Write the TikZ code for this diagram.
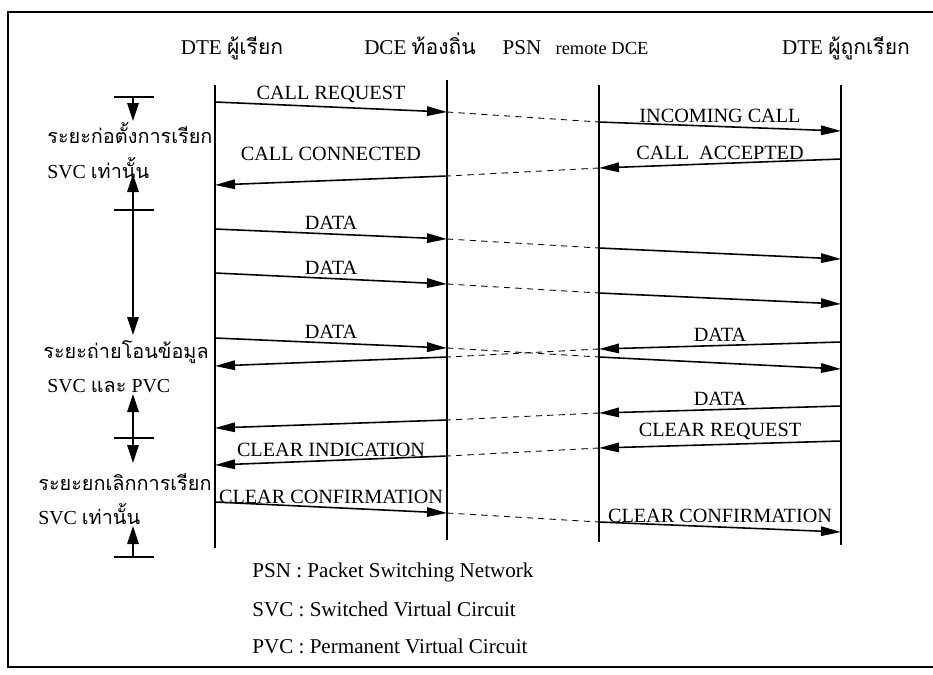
\documentclass[tikz,border=0pt]{standalone}
\usepackage{fontspec}
\setmainfont{Liberation Serif}
\newfontfamily\thaifont[Script=Thai]{Loma}
\usetikzlibrary{arrows.meta}

\begin{document}
\begin{tikzpicture}[
    x=0.02cm, y=-0.02cm,
    font=\fontsize{11.5}{13}\selectfont,
    life/.style={line width=0.6pt},
    msg/.style={-{Triangle[length=4mm,width=1.9mm]}, line width=0.9pt},
    net/.style={dash pattern=on 3.5pt off 3pt, line width=0.5pt},
    lbl/.style={above=1pt, inner sep=1pt},
    head/.style={anchor=base, inner sep=0pt, font=\fontsize{12}{14}\selectfont},
    phase/.style={-{Triangle[length=3.6mm,width=2.3mm]}, line width=0.7pt},
    tick/.style={line width=0.7pt},
    stage/.style={anchor=west, inner sep=0pt, font=\fontsize{11.3}{14}\selectfont},
    note/.style={anchor=west, inner sep=0pt, font=\fontsize{12}{14}\selectfont}
]
    \useasboundingbox (0,0) rectangle (933,674);
    %% Frame
    \draw[line width=1.1pt] (8,12) rectangle (945,667);

    %% Headers
    \node[head] (hcaller) at (232,54) {DTE {\thaifont ผู้เรียก}};
    \node[head] (hlocal) at (420,54) {DCE {\thaifont ท้องถิ่น}};
    \node[head] (hpsn) at (522,54) {PSN};
    \node[head] (hremote) at (602,54) {\fontsize{10.5}{12}\selectfont remote DCE};
    \node[head] (hcallee) at (846,54) {DTE {\thaifont ผู้ถูกเรียก}};

    %% Lifelines
    \coordinate (callerT) at (215,85);  \coordinate (callerB) at (215,548);
    \coordinate (localT) at (447,80);   \coordinate (localB) at (447,540);
    \coordinate (remoteT) at (599,85);  \coordinate (remoteB) at (599,542);
    \coordinate (calleeT) at (841,85);  \coordinate (calleeB) at (841,545);
    \draw[life] (callerT) -- (callerB);
    \draw[life] (localT) -- (localB);
    \draw[life] (remoteT) -- (remoteB);
    \draw[life] (calleeT) -- (calleeB);

    %% Message end points on the four lifelines
    \foreach \n/\ya/\yb/\yc/\yd in {1/102/112/122/131, 2/185/176/168/159,
        3/229/239/248/259, 4/273/284/293/304, 5/338/348/357/369,
        6/366/357/349/342, 7/428/420/413/406, 8/465/456/448/441,
        9/502/513/522/532} {
        \coordinate (a\n) at (215,\ya);
        \coordinate (b\n) at (447,\yb);
        \coordinate (c\n) at (599,\yc);
        \coordinate (d\n) at (841,\yd);
    }

    %% Through the network
    \foreach \n in {1,3,4,5,9} \draw[net] (b\n) -- (c\n);
    \foreach \n in {2,6,7,8} \draw[net] (c\n) -- (b\n);

    %% Call set-up
    \draw[msg] (a1) -- node[lbl] (m1) {CALL REQUEST} (b1);
    \draw[msg] (c1) -- node[lbl] (m1r) {INCOMING CALL} (d1);
    \draw[msg] (d2) -- node[lbl] (m2r) {CALL\enspace ACCEPTED} (c2);
    \draw[msg] (b2) -- node[lbl, above=9pt] (m2) {CALL CONNECTED} (a2);

    %% Data transfer
    \draw[msg] (a3) -- node[lbl] (m3) {DATA} (b3);
    \draw[msg] (c3) -- (d3);
    \draw[msg] (a4) -- node[lbl] (m4) {DATA} (b4);
    \draw[msg] (c4) -- (d4);
    \draw[msg] (a5) -- node[lbl] (m5) {DATA} (b5);
    \draw[msg] (c5) -- (d5);
    \draw[msg] (d6) -- node[lbl] (m6r) {DATA} (c6);
    \draw[msg] (b6) -- (a6);
    \draw[msg] (d7) -- node[lbl] (m7r) {DATA} (c7);
    \draw[msg] (b7) -- (a7);

    %% Call clearing
    \draw[msg] (d8) -- node[lbl] (m8r) {CLEAR REQUEST} (c8);
    \draw[msg] (b8) -- node[lbl] (m8) {CLEAR INDICATION} (a8);
    \draw[msg] (a9) -- node[lbl] (m9) {CLEAR CONFIRMATION} (b9);
    \draw[msg] (c9) -- node[lbl] (m9r) {CLEAR CONFIRMATION} (d9);

    %% Phases
    \coordinate (t1) at (133,97);   \coordinate (p1) at (133,121);
    \coordinate (t2) at (133,210);  \coordinate (p2u) at (133,174); \coordinate (p2d) at (133,335);
    \coordinate (t3) at (133,438);  \coordinate (p3u) at (133,394); \coordinate (p3d) at (133,463);
    \coordinate (t4) at (133,557);  \coordinate (p4u) at (133,526);
    \foreach \t in {t1,t2,t3,t4} \draw[tick] ([xshift=-11]\t) -- ([xshift=12]\t);
    \draw[phase] (t1) -- (p1);
    \draw[phase] (t2) -- (p2u);
    \draw[phase] (t2) -- (p2d);
    \draw[phase] (t3) -- (p3u);
    \draw[phase] (t3) -- (p3d);
    \draw[phase] (t4) -- (p4u);

    \node[stage] (s1) at (47,133) {\thaifont ระยะก่อตั้งการเรียก};
    \node[stage] (s1b) at (47,168) {SVC {\thaifont เท่านั้น}};
    \node[stage] (s2) at (43,352) {\thaifont ระยะถ่ายโอนข้อมูล};
    \node[stage] (s2b) at (47,386) {SVC {\thaifont และ} PVC};
    \node[stage] (s3) at (38,482) {\thaifont ระยะยกเลิกการเรียก};
    \node[stage] (s3b) at (38,514) {SVC {\thaifont เท่านั้น}};

    %% Legend
    \node[note] (n1) at (252,572) {PSN : Packet Switching Network};
    \node[note] (n2) at (252,609) {SVC : Switched Virtual Circuit};
    \node[note] (n3) at (252,646) {PVC : Permanent Virtual Circuit};
\end{tikzpicture}
\end{document}
